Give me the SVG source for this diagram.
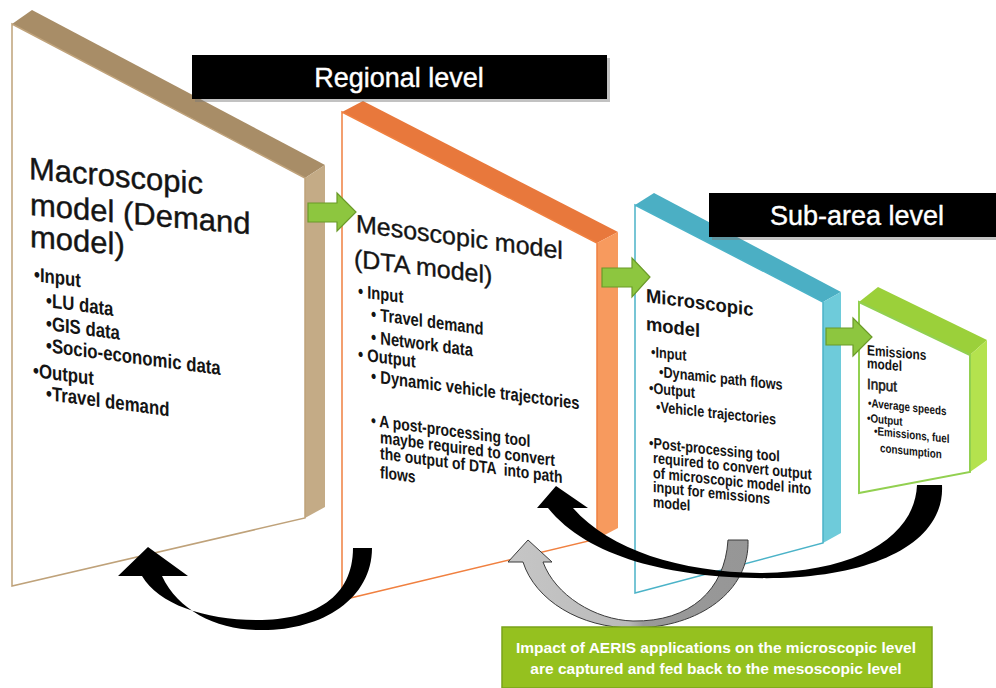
<svg xmlns="http://www.w3.org/2000/svg" width="996" height="688" viewBox="0 0 996 688">
<defs>
<style>
.t{font-family:"Liberation Sans",Arial,sans-serif;fill:#141414}
.ttl{font-size:31px;stroke:#141414;stroke-width:0.4}
.ttl2{font-size:25px;stroke:#141414;stroke-width:0.35}
.ttl3{font-size:19px;font-weight:bold}
.b1{font-size:20px;font-weight:bold}
.b2{font-size:18px;font-weight:bold}
.b2p{font-size:17px;font-weight:bold}
.b3{font-size:15.5px;font-weight:bold}
.b4{font-size:12px;font-weight:bold}
.lbl{font-family:"Liberation Sans",Arial,sans-serif;font-size:27px;fill:#fff;stroke:#fff;stroke-width:0.4;text-anchor:middle}
.gtx{font-family:"Liberation Sans",Arial,sans-serif;font-size:15.5px;font-weight:bold;fill:#fff;text-anchor:middle}
.garrow{fill:#8DC63F;stroke:#6A9A28;stroke-width:1.2}
</style>
<linearGradient id="gray" gradientUnits="userSpaceOnUse" x1="508" y1="0" x2="750" y2="0">
<stop offset="0" stop-color="#c6c6c6"/>
<stop offset="0.5" stop-color="#bababa"/>
<stop offset="0.56" stop-color="#9a9a9a"/>
<stop offset="1" stop-color="#969696"/>
</linearGradient>
</defs>
<rect width="996" height="688" fill="#fff"/>

<g id="macroscopic">
<polygon points="12,24 32,10 325,165 305,178" fill="#A88D67"/>
<polygon points="305,178 325,165 325,507 305,518" fill="#C4AB86"/>
<polygon points="12,24 305,178 305,518 12,586" fill="#fff" stroke="#BFA27A" stroke-width="1.5"/>
<text class="t ttl" transform="translate(29,179) skewY(5)">Macroscopic</text>
<text class="t ttl" transform="translate(30,215) skewY(5)">model (Demand</text>
<text class="t ttl" transform="translate(30,247) skewY(5)">model)</text>
<text class="t b1" transform="translate(34,281) skewY(7.5) scale(0.84,1)">•Input</text>
<text class="t b1" transform="translate(46,307) skewY(7.5) scale(0.84,1)">•LU data</text>
<text class="t b1" transform="translate(46,330) skewY(7.5) scale(0.84,1)">•GIS data</text>
<text class="t b1" transform="translate(46,352) skewY(7.5) scale(0.84,1)">•Socio-economic data</text>
<text class="t b1" transform="translate(33,377) skewY(7.5) scale(0.84,1)">•Output</text>
<text class="t b1" transform="translate(46,400) skewY(7.5) scale(0.84,1)">•Travel demand</text>
</g>

<g id="mesoscopic">
<polygon points="342,112 363,101 618,232 597,243" fill="#E8783C"/>
<polygon points="597,243 618,232 618,528 597,539" fill="#F79A5E"/>
<polygon points="342,112 597,243 597,539 342,600" fill="#fff" stroke="#F08040" stroke-width="1.5"/>
<text class="t ttl2" transform="translate(356,232) skewY(7.5)">Mesoscopic model</text>
<text class="t ttl2" transform="translate(354,267) skewY(7)">(DTA model)</text>
<text class="t b2" transform="translate(358,297) skewY(7.5) scale(0.82,1)">• Input</text>
<text class="t b2" transform="translate(371,320) skewY(7.5) scale(0.82,1)">• Travel demand</text>
<text class="t b2" transform="translate(371,343) skewY(7.5) scale(0.82,1)">• Network data</text>
<text class="t b2" transform="translate(358,360) skewY(7.5) scale(0.82,1)">• Output</text>
<text class="t b2" transform="translate(371,382) skewY(7.5) scale(0.82,1)">• Dynamic vehicle trajectories</text>
<text class="t b2p" transform="translate(371,426) skewY(7.5) scale(0.82,1)">• A post-processing tool</text>
<text class="t b2p" transform="translate(380,443) skewY(7.5) scale(0.82,1)">maybe required to convert</text>
<text class="t b2p" transform="translate(380,459) skewY(7.5) scale(0.82,1)" xml:space="preserve">the output of DTA  into path</text>
<text class="t b2p" transform="translate(380,478) skewY(7.5) scale(0.82,1)">flows</text>
</g>

<g id="microscopic">
<polygon points="635,205 654,193 841,292 823,302" fill="#4BAFC4"/>
<polygon points="823,302 841,292 841,533 823,543" fill="#6ECBDA"/>
<polygon points="635,205 823,302 823,543 635,593" fill="#fff" stroke="#4BB3C8" stroke-width="1.5"/>
<text class="t ttl3" transform="translate(646,302) skewY(7.5) scale(0.97,1)">Microscopic</text>
<text class="t ttl3" transform="translate(646,330) skewY(7.5) scale(0.97,1)">model</text>
<text class="t b3" transform="translate(651,357) skewY(6) scale(0.82,1)">•Input</text>
<text class="t b3" transform="translate(659,377) skewY(6) scale(0.82,1)">•Dynamic path flows</text>
<text class="t b3" transform="translate(649,393) skewY(6) scale(0.82,1)">•Output</text>
<text class="t b3" transform="translate(656,412) skewY(6) scale(0.82,1)">•Vehicle trajectories</text>
<text class="t b3" transform="translate(649,448) skewY(6) scale(0.82,1)">•Post-processing tool</text>
<text class="t b3" transform="translate(653,463) skewY(6) scale(0.82,1)">required to convert output</text>
<text class="t b3" transform="translate(653,478) skewY(6) scale(0.82,1)">of microscopic model into</text>
<text class="t b3" transform="translate(653,492) skewY(6) scale(0.82,1)">input for emissions</text>
<text class="t b3" transform="translate(653,507) skewY(6) scale(0.82,1)">model</text>
</g>

<g id="emissions">
<polygon points="859,302 878,287 987,340 970,355" fill="#9BD03A"/>
<polygon points="970,355 987,340 987,460 970,472" fill="#B4E24E"/>
<polygon points="859,302 970,355 970,472 859,493" fill="#fff" stroke="#92D050" stroke-width="2"/>
<text class="t" font-size="14.5" font-weight="bold" transform="translate(867,355) skewY(5) scale(0.82,1)">Emissions</text>
<text class="t" font-size="14.5" font-weight="bold" transform="translate(867,368) skewY(5) scale(0.82,1)">model</text>
<text class="t" font-size="15" stroke="#141414" stroke-width="0.5" transform="translate(867,389) skewY(5) scale(0.9,1)">Input</text>
<text class="t b4" transform="translate(868,407) skewY(6) scale(0.82,1)">•Average speeds</text>
<text class="t b4" transform="translate(867,422) skewY(6) scale(0.82,1)">•Output</text>
<text class="t b4" transform="translate(874,435) skewY(6) scale(0.82,1)">•Emissions, fuel</text>
<text class="t b4" transform="translate(880,452) skewY(6) scale(0.82,1)">consumption</text>
</g>

<g id="regional-level">
<rect x="195" y="58" width="415" height="44" fill="#777" opacity="0.45"/>
<rect x="192" y="55" width="415" height="44" fill="#000"/>
<text class="lbl" x="399" y="87">Regional level</text>
</g>

<g id="subarea-level">
<rect x="712" y="196" width="287" height="44" fill="#777" opacity="0.45"/>
<rect x="709" y="193" width="287" height="44" fill="#000"/>
<text class="lbl" x="857" y="225">Sub-area level</text>
</g>

<g id="connectors">
<polygon class="garrow" points="308,203 337,203 337,193 356,212 337,231 337,222 308,222"/>
<polygon class="garrow" points="602,268 632,268 632,258 650,277 632,297 632,287 602,287"/>
<polygon class="garrow" points="826,328 853,328 853,318 872,337 853,356 853,345 826,345"/>
<path d="M728,540 L748,540 C750,590 700,628 633,628 C580,628 535,600 523,562 L508,562 L528,540 L552,562 L543,562 C555,595 595,620 633,621 C690,622 725,590 728,540 Z" fill="url(#gray)" stroke="#3a3a3a" stroke-width="1"/>
<path d="M353,548 L372,548 C372,600 320,632 257,630 C215,629 178,610 162,576 L188,576 L148,547 L118,576 L142,576 C158,604 205,620 257,620 C315,620 353,597 353,548 Z" fill="#000"/>
<path d="M917,485 L942,485 C945,540 880,575 780,578 C680,580 590,560 548,508 L537,508 L556,486 L588,508 L573,508 C610,550 680,572 760,573 C860,572 915,535 917,485 Z" fill="#000"/>
</g>

<g id="impact-note">
<rect x="502" y="627" width="430" height="61" fill="#95C11F" stroke="#7AA31A" stroke-width="1.5"/>
<text class="gtx" x="716" y="653">Impact of AERIS applications on the microscopic level</text>
<text class="gtx" x="716" y="674">are captured and fed back to the mesoscopic level</text>
</g>
</svg>
